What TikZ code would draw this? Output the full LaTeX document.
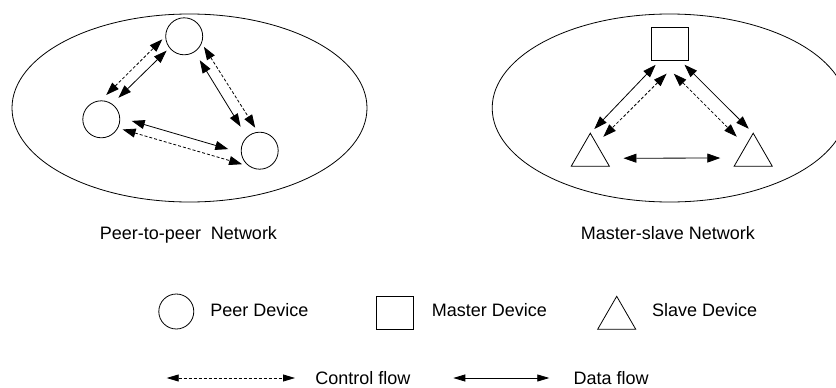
\documentclass[tikz,border=0pt]{standalone}
\usepackage{fontspec}
\setmainfont{Liberation Sans}
\usetikzlibrary{arrows.meta,shapes.geometric}

\begin{document}
\begin{tikzpicture}[x=1pt,y=-1pt,line width=0.8pt,
    peer/.style={circle,draw,minimum size=37pt,inner sep=0pt,outer sep=0pt},
    master/.style={rectangle,draw,minimum width=37.4pt,minimum height=32.7pt,inner sep=0pt,outer sep=0pt},
    slave/.style={regular polygon,regular polygon sides=3,draw,minimum size=44pt,inner sep=0pt,outer sep=0pt},
    data/.style={{Triangle[length=13pt,width=9pt]}-{Triangle[length=13pt,width=9pt]}},
    ctrl/.style={data,dash pattern=on 3pt off 2pt},
    legtip/.style={{Triangle[length=12pt,width=7pt]}-{Triangle[length=12pt,width=7pt]}},
    lbl/.style={inner sep=0pt,font=\fontsize{18}{21}\selectfont}]
        \useasboundingbox (0,0) rectangle (836,388);
        % the two networks
        \draw (189.5,108) ellipse [x radius=177.5pt, y radius=94pt];
        \draw (669.7,108) ellipse [x radius=177.5pt, y radius=94pt];
        % peer-to-peer
        \node[peer] (T) at (184.2,36.3) {};
        \node[peer] (L) at (101.3,119.3) {};
        \node[peer] (R) at (259.7,150.7) {};
        \draw[data,shorten <=9.1pt,shorten >=4.2pt] (L.55.5) -- (T.218.4);
        \draw[ctrl,shorten <=8.3pt,shorten >=4.8pt] (L.93.7) -- (T.179);
        \draw[data,shorten <=10pt,shorten >=12.3pt] (T.304.9) -- (R.133);
        \draw[ctrl,shorten <=4.6pt,shorten >=5.4pt] (T.339.4) -- (R.95.6);
        \draw[data,shorten <=12.5pt,shorten >=13.6pt] (L.6.8) -- (R.187.7);
        \draw[ctrl,shorten <=5.2pt,shorten >=8.4pt] (L.332.6) -- (R.239.8);
        % master-slave
        \node[master] (M) at (670,43.7) {};
        \node[slave] (S1) at (590.3,155.2) {};
        \node[slave] (S2) at (753.2,155.2) {};
        \draw[data,shorten <=6.6pt,shorten >=5.8pt] (M.239.1) -- (S1.corner 1);
        \draw[ctrl,shorten <=19.3pt,shorten >=9.8pt] (M.302.2) -- (S1.62.6);
        \draw[ctrl,shorten <=19.3pt,shorten >=12.9pt] (M.239.1) -- (S2.128.2);
        \draw[data,shorten <=6.6pt,shorten >=6.3pt] (M.301.7) -- (S2.corner 1);
        \draw[data,shorten <=18.7pt,shorten >=18.6pt] (S1.348.1) -- (S2.191.9);
        \node[lbl,anchor=base] (p2p) at (188.5,239.5) {Peer-to-peer\ \ Network};
        \node[lbl,anchor=base] (msn) at (668,239.5) {Master-slave Network};
        % legend
        \node[peer,minimum size=35pt] (lgp) at (176.3,311.5) {};
        \node[lbl,anchor=base west] (lgpt) at (210,316.5) {Peer Device};
        \node[master] (lgm) at (394.7,313) {};
        \node[lbl,anchor=base west] (lgmt) at (431.5,316.5) {Master Device};
        \node[slave] (lgs) at (616.7,318.3) {};
        \node[lbl,anchor=base west] (lgst) at (651.7,316.5) {Slave Device};
        \coordinate (c1) at (166.7,378);
        \coordinate (c2) at (295,378);
        \draw[ctrl,legtip] (c1) -- (c2);
        \node[lbl,anchor=base west] (ct) at (315,384.5) {Control flow};
        \coordinate (d1) at (453.3,378);
        \coordinate (d2) at (549.3,378);
        \draw[legtip] (d1) -- (d2);
        \node[lbl,anchor=base west] (dt) at (573.3,384.5) {Data flow};
\end{tikzpicture}
\end{document}
